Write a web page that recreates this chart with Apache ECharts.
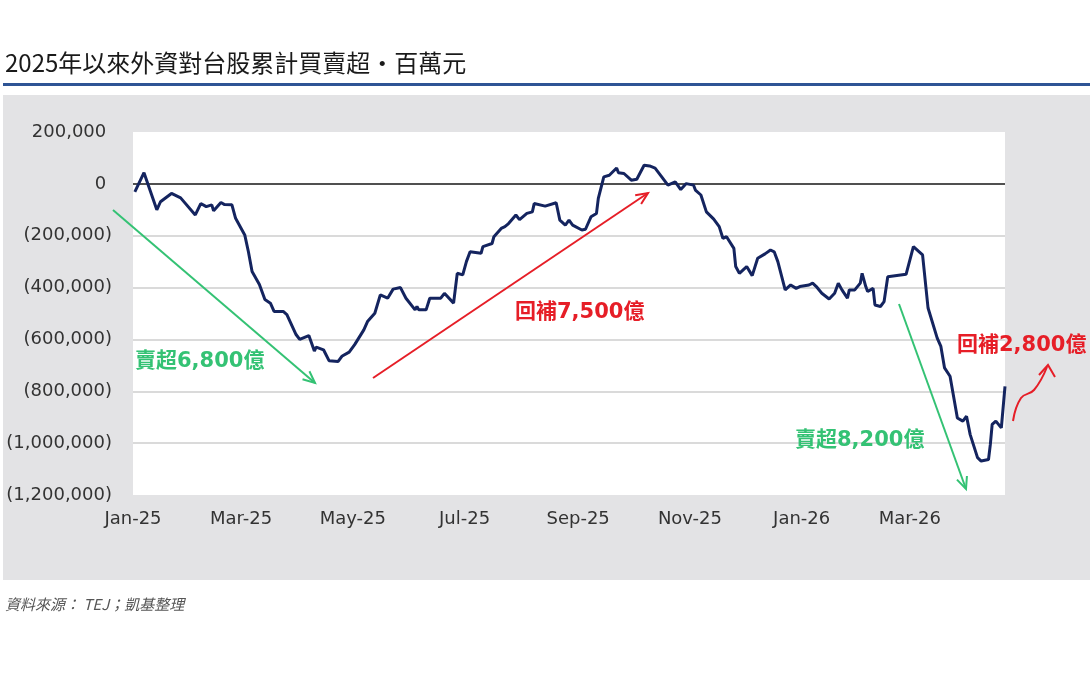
<!DOCTYPE html>
<html>
<head>
<meta charset="utf-8">
<script src="https://cdn.jsdelivr.net/npm/echarts@6.0.0/dist/echarts.min.js"></script>
<style>
  html, body { margin: 0; padding: 0; background: #fff; }
  #chart { width: 1090px; height: 683px; }
</style>
</head>
<body>
<div id="chart"></div>
<script>
// 外資累計買賣超（百萬元），讀自原圖
const dates = [
  '2025-01-02','2025-01-07','2025-01-14','2025-01-16','2025-01-22','2025-01-27',
  '2025-02-04','2025-02-07','2025-02-10','2025-02-13','2025-02-14','2025-02-18','2025-02-20','2025-02-24','2025-02-26',
  '2025-03-03','2025-03-05','2025-03-07','2025-03-11','2025-03-14','2025-03-17','2025-03-19','2025-03-24','2025-03-26','2025-03-31',
  '2025-04-02','2025-04-07','2025-04-10','2025-04-11','2025-04-15','2025-04-18','2025-04-23','2025-04-25','2025-04-29',
  '2025-05-02','2025-05-07','2025-05-09','2025-05-13','2025-05-16','2025-05-20','2025-05-23','2025-05-27','2025-05-30',
  '2025-06-04','2025-06-05','2025-06-06','2025-06-10','2025-06-12','2025-06-18','2025-06-20','2025-06-25','2025-06-27','2025-06-30',
  '2025-07-02','2025-07-04','2025-07-10','2025-07-11','2025-07-16','2025-07-17','2025-07-21','2025-07-23','2025-07-25','2025-07-29','2025-07-31',
  '2025-08-04','2025-08-07','2025-08-08','2025-08-14','2025-08-15','2025-08-20','2025-08-22','2025-08-25','2025-08-27','2025-08-29',
  '2025-09-03','2025-09-05','2025-09-08','2025-09-11','2025-09-12','2025-09-15','2025-09-18','2025-09-22','2025-09-23','2025-09-26','2025-09-30',
  '2025-10-03','2025-10-07','2025-10-10','2025-10-13','2025-10-16','2025-10-20','2025-10-24','2025-10-27','2025-10-30',
  '2025-11-03','2025-11-04','2025-11-07','2025-11-10','2025-11-14','2025-11-17','2025-11-19','2025-11-21','2025-11-25','2025-11-26','2025-11-28',
  '2025-12-02','2025-12-05','2025-12-08','2025-12-12','2025-12-15','2025-12-17','2025-12-19','2025-12-23','2025-12-26','2025-12-29','2025-12-31',
  '2026-01-05','2026-01-07','2026-01-09','2026-01-12','2026-01-16','2026-01-19','2026-01-21','2026-01-23','2026-01-26','2026-01-27','2026-01-30',
  '2026-02-02','2026-02-03','2026-02-05','2026-02-06','2026-02-09','2026-02-10','2026-02-13','2026-02-15','2026-02-17','2026-02-27',
  '2026-03-03','2026-03-08','2026-03-11','2026-03-16','2026-03-18','2026-03-20','2026-03-23','2026-03-27','2026-03-30',
  '2026-04-01','2026-04-03','2026-04-07','2026-04-09','2026-04-13','2026-04-14','2026-04-15','2026-04-17','2026-04-20','2026-04-22'
];
const values = [
  -31000, 43000, -100000, -69000, -37000, -54000,
  -120000, -76000, -88000, -81000, -104000, -72000, -80000, -81000, -133000,
  -197000, -262000, -338000, -388000, -446000, -460000, -492000, -492000, -504000, -581000,
  -600000, -585000, -645000, -630000, -640000, -682000, -685000, -665000, -649000,
  -620000, -563000, -531000, -499000, -428000, -441000, -406000, -400000, -441000,
  -486000, -473000, -486000, -486000, -441000, -441000, -422000, -460000, -345000, -351000,
  -300000, -262000, -268000, -242000, -230000, -204000, -172000, -165000, -153000, -120000, -138000,
  -114000, -108000, -76000, -86000, -82000, -73000, -140000, -159000, -140000, -159000,
  -178000, -175000, -127000, -114000, -56000, 27000, 33000, 61000, 43000, 40000, 14000,
  18000, 72000, 69000, 61000, 33000, -5000, 8000, -22000, 1000,
  -5000, -24000, -43000, -108000, -136000, -165000, -210000, -204000, -249000, -319000, -345000,
  -319000, -354000, -287000, -270000, -255000, -262000, -300000, -409000, -390000, -403000, -396000,
  -390000, -383000, -396000, -422000, -444000, -422000, -383000, -409000, -441000, -409000, -409000,
  -383000, -345000, -396000, -415000, -403000, -467000, -473000, -454000, -358000, -349000,
  -242000, -274000, -479000, -595000, -627000, -710000, -742000, -903000, -915000,
  -896000, -967000, -1056000, -1069000, -1063000, -1005000, -928000, -915000, -941000, -781000
];
// x 軸標籤（每兩個月）
const tickMonths = ['2025-01-01','2025-03-01','2025-05-01','2025-07-01','2025-09-01','2025-11-01','2026-01-01','2026-03-01'];
const monthNames = ['Jan','Feb','Mar','Apr','May','Jun','Jul','Aug','Sep','Oct','Nov','Dec'];

const GREEN = '#34c274';
const RED = '#e61e27';
const NUM_FONT = "'DejaVu Sans','Noto Sans CJK TC',sans-serif";

function ts(s) {
  const p = s.split('-').map(Number);
  return new Date(p[0], p[1] - 1, p[2]).getTime();
}

function arrow(x1, y1, x2, y2, color) {
  const ang = Math.atan2(y2 - y1, x2 - x1);
  const L = 13, a = 0.42;
  return [
    { type: 'line', z: 100, shape: { x1, y1, x2, y2 }, style: { stroke: color, lineWidth: 2 } },
    { type: 'polyline', z: 100,
      shape: { points: [
        [x2 - L * Math.cos(ang - a), y2 - L * Math.sin(ang - a)],
        [x2, y2],
        [x2 - L * Math.cos(ang + a), y2 - L * Math.sin(ang + a)]
      ] },
      style: { stroke: color, lineWidth: 2, fill: null } }
  ];
}

function note(x, y, text, color) {
  return { type: 'text', z: 100, x, y,
    style: { text, fill: color, font: "bold 21px " + NUM_FONT, textVerticalAlign: 'middle' } };
}

const chart = echarts.init(document.getElementById('chart'));
chart.setOption({
  animation: false,
  grid: { left: 133, top: 132, right: 85, bottom: 188, show: true, backgroundColor: '#fff', borderWidth: 0 },
  xAxis: {
    type: 'value',
    min: ts('2025-01-01'),
    max: ts('2026-04-22'),
    axisLine: { show: false },
    axisTick: { show: false },
    splitLine: { show: false },
    axisLabel: {
      customValues: tickMonths.map(ts),
      formatter: v => { const d = new Date(v); return monthNames[d.getMonth()] + '-' + String(d.getFullYear()).slice(2); },
      color: '#333', fontSize: 18, fontFamily: NUM_FONT, margin: 15
    }
  },
  yAxis: {
    type: 'value',
    min: -1200000, max: 200000, interval: 200000,
    axisLine: { show: false },
    axisTick: { show: false },
    splitLine: { showMinLine: false, showMaxLine: false, lineStyle: { color: '#dadada', width: 2 } },
    axisLabel: {
      // 負數用括號，正數尾端留一個括號寬的空白（Excel 會計格式）
      formatter: v => v < 0 ? '(' + Math.abs(v).toLocaleString('en-US') + ')' : v.toLocaleString('en-US') + ' ',
      color: '#333', fontSize: 18, fontFamily: NUM_FONT, margin: 21
    }
  },
  series: [{
    type: 'line',
    data: dates.map((d, i) => [ts(d), values[i]]),
    showSymbol: false,
    lineStyle: { color: '#14245f', width: 3 },
    markLine: {
      silent: true, symbol: 'none', label: { show: false },
      lineStyle: { color: '#222', width: 1.5, type: 'solid' },
      data: [{ yAxis: 0 }]
    },
    z: 5
  }],
  graphic: [
    { type: 'rect', z: -10, shape: { x: 3, y: 95, width: 1087, height: 485 }, style: { fill: '#e3e3e5' } },
    { type: 'rect', z: 10, shape: { x: 3, y: 83, width: 1087, height: 3 }, style: { fill: '#2e5495' } },
    { type: 'text', z: 10, x: 5, y: 63,
      style: { text: '2025年以來外資對台股累計買賣超・百萬元', fill: '#1a1a1a',
        font: "24px 'Noto Sans CJK TC',sans-serif", textVerticalAlign: 'middle' } },
    { type: 'text', z: 10, x: 5, y: 604,
      style: { text: '資料來源： TEJ；凱基整理', fill: '#555',
        font: "italic 15px 'Noto Sans CJK TC',sans-serif", textVerticalAlign: 'middle' } },
    ...arrow(113, 210, 315, 383, GREEN),
    ...arrow(373, 378, 648, 193, RED),
    ...arrow(899, 304, 966, 489, GREEN),
    { type: 'polyline', z: 100, shape: { points: [[1013, 421], [1021, 398], [1034, 390], [1047, 367]], smooth: 0.45 },
      style: { stroke: RED, lineWidth: 2, fill: null } },
    { type: 'polyline', z: 100, shape: { points: [[1039, 375], [1048, 365], [1055, 377]] },
      style: { stroke: RED, lineWidth: 2, fill: null } },
    note(135, 362, '賣超6,800億', GREEN),
    note(515, 313, '回補7,500億', RED),
    note(795, 441, '賣超8,200億', GREEN),
    note(957, 346, '回補2,800億', RED)
  ]
});
</script>
</body>
</html>
